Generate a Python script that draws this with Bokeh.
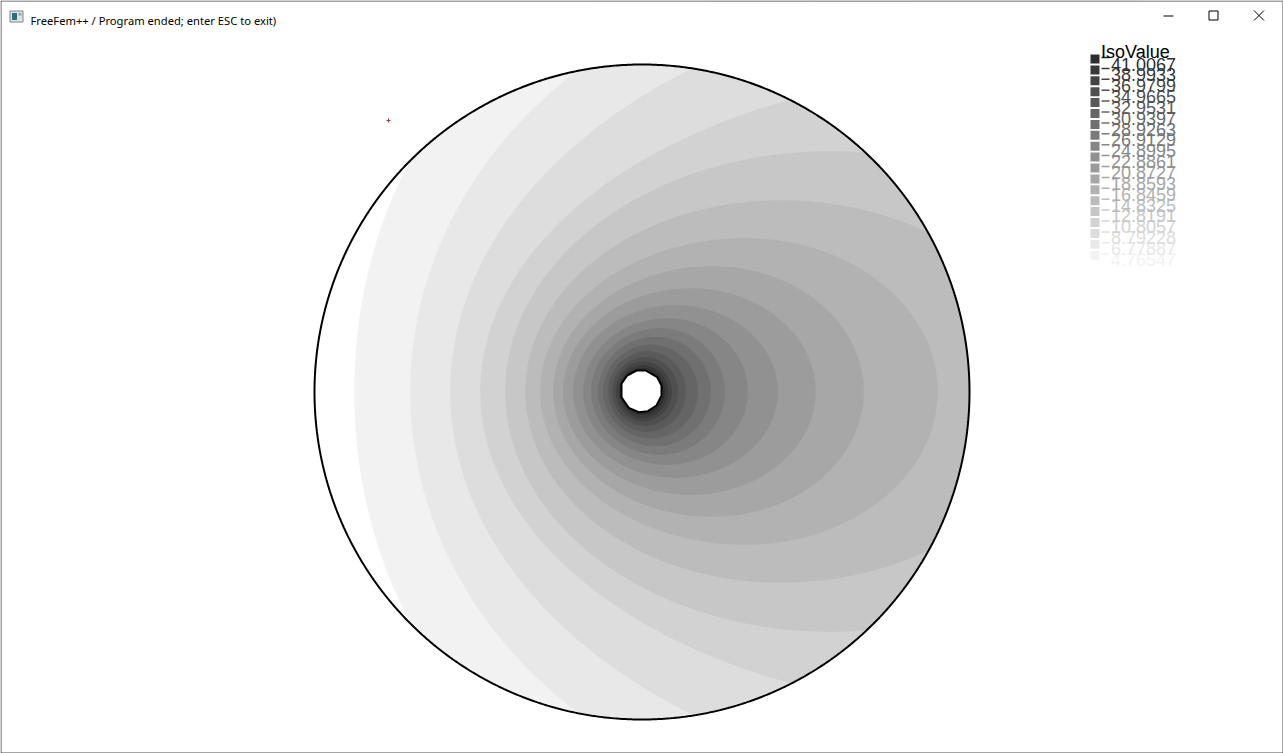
import numpy as np
from bokeh.plotting import figure
from bokeh.models import Range1d, ColumnDataSource
from bokeh.embed import file_html
from bokeh.resources import INLINE
from bokeh.core.properties import value

W, H = 1283, 753

# ---- legend data (lowest iso value first) ----
iso_values = [4.76547, 6.77887, 8.79228, 10.8057, 12.8191, 14.8325, 16.8459, 18.8593,
              20.8727, 22.8861, 24.8995, 26.9129, 28.9263, 30.9397, 32.9531, 34.9665,
              36.9799, 38.9933, 41.0067]
iso_labels = ["4.76547", "6.77887", "8.79228", "10.8057", "12.8191", "14.8325", "16.8459",
              "18.8593", "20.8727", "22.8861", "24.8995", "26.9129", "28.9263", "30.9397",
              "32.9531", "34.9665", "36.9799", "38.9933", "41.0067"]
iso_colors = ["#f2f2f2", "#e8e8e8", "#dddddd", "#d2d2d2", "#c7c7c7", "#bcbcbc", "#b2b2b2",
              "#a7a7a7", "#9c9c9c", "#919191", "#868686", "#7b7b7b", "#707070", "#656565",
              "#5a5a5a", "#4f4f4f", "#444444", "#393939", "#2e2e2e"]

# ---- mesh geometry (screen pixels) ----
disc_cx, disc_cy, disc_r = 641.5, 391.5, 327.5
hole_x = [636, 645, 656.7, 661, 661, 656, 647.3, 638.3, 628.3, 621, 621, 626.7]
hole_y = [370, 370, 376.7, 385, 395, 405, 410.7, 411.7, 407.3, 396.7, 383.3, 375]

# iso-line shapes (one per iso value): left/right extent on the axis row,
# x of widest point and half-height there
contour_cy = 391
contour_xl = [354, 410, 450, 480, 505, 525, 540, 553, 563, 573, 583, 591, 598, 603, 608, 612, 615.5, 618.5, 620]
contour_xr = [1400, 1500, 1500, 1400, 1160, 1045, 937, 863, 815, 777, 747, 724, 710, 697, 685, 677, 671, 667, 664]
contour_xm = [659, 882, 1040, 1007, 830, 780, 745, 712, 690, 675, 667, 660, 655, 651, 647, 645, 643, 642.5, 642]
contour_h = [400, 420, 400, 320, 240, 191, 153, 125, 103, 86, 73, 63, 54.5, 46.5, 40, 34, 29.5, 26, 23]

marker_x, marker_y = [388], [120]

p = figure(width=W, height=H, x_range=Range1d(0, W), y_range=Range1d(H, 0),
           toolbar_location=None, output_backend="svg", min_border=0)
p.axis.visible = False
p.grid.visible = False
p.outline_line_color = None
p.background_fill_color = "white"
p.border_fill_color = "white"


def egg(xl, xr, xm, h, cy, n=240):
    t = np.linspace(0, np.pi, n)
    lx = xm - (xm - xl) * np.sin(t)
    ly = cy - h * np.cos(t)
    rx = xm + (xr - xm) * np.sin(t)
    ry = cy + h * np.cos(t)
    return list(np.concatenate([lx, rx])), list(np.concatenate([ly, ry]))


xs, ys = [], []
for k in range(len(iso_values)):
    ex, ey = egg(contour_xl[k], contour_xr[k], contour_xm[k], contour_h[k], contour_cy)
    xs.append(ex)
    ys.append(ey)
p.patches(xs, ys, fill_color=iso_colors, line_color=iso_colors, line_width=0.5)

# mask outside the disc
th = np.linspace(0, 2 * np.pi, 1441)
cxs = list(disc_cx + disc_r * np.cos(th))
cys = list(disc_cy + disc_r * np.sin(th))
p.multi_polygons(xs=[[[[-20, W + 20, W + 20, -20], cxs]]],
                 ys=[[[[-20, -20, H + 20, H + 20], cys]]],
                 fill_color="white", line_color=None)
p.line(cxs, cys, line_color="black", line_width=2)

# hole
p.patch(hole_x, hole_y, fill_color="white", line_color="black", line_width=2)

# tiny marker
p.scatter(marker_x, marker_y, marker="cross", size=4, line_color="#b03030", line_width=1)

# ---- legend ----
n = len(iso_values)
rows = [n - 1 - k for k in range(n)]
box_top = [54 + 10.9 * r for r in rows]
src = ColumnDataSource(dict(
    top=box_top, bottom=[b + 9 for b in box_top],
    ymid=[b + 3 for b in box_top],
    base=[63.5 + 10.85 * r for r in rows],
    label=iso_labels, color=iso_colors))
p.quad(left=1090, right=1099, top="top", bottom="bottom", fill_color="color",
       line_color=None, source=src)
p.segment(x0=1101, x1=1109, y0="ymid", y1="ymid", line_color="color", line_width=1.5, source=src)
p.text(x=1110.5, y="base", text="label", text_color="color", text_font=value("Liberation Sans"),
       text_font_size="18px", text_baseline="alphabetic", source=src)
p.text(x=[1100.5], y=[51.5], text=["IsoValue"], text_color="black", text_font=value("Liberation Sans"),
       text_font_size="18px", text_baseline="alphabetic")

# ---- window chrome ----
p.quad(left=0, right=W, top=0, bottom=30, fill_color="white", line_color=None)
p.quad(left=9.5, right=22.5, top=10.5, bottom=21.5, fill_color="#dfe4e6", line_color="#7d8387", line_width=1)
p.quad(left=11.5, right=16.5, top=12.5, bottom=19.5, fill_color="#2f6f7a", line_color=None)
p.quad(left=18, right=21, top=12.5, bottom=15, fill_color="#9aa3a8", line_color=None)
p.text(x=[30], y=[20], text=["FreeFem++ / Program ended; enter ESC to exit)"], text_color="black",
       text_font=value("Noto Sans"), text_font_size="11.2px", text_baseline="alphabetic")
p.segment(x0=[1163], x1=[1173], y0=[15.5], y1=[15.5], line_color="black", line_width=1)
p.quad(left=1208.5, right=1217.5, top=10.5, bottom=19.5, fill_color=None, line_color="black", line_width=1)
p.segment(x0=[1253.5, 1253.5], x1=[1263.5, 1263.5], y0=[10, 20], y1=[20, 10], line_color="black", line_width=1)
# window border
p.line([0.5, W - 0.5, W - 0.5, 0.5, 0.5], [0.5, 0.5, H - 0.5, H - 0.5, 0.5], line_color="#4a4a4a", line_width=1)

open("out.html", "w").write(file_html(p, INLINE))
